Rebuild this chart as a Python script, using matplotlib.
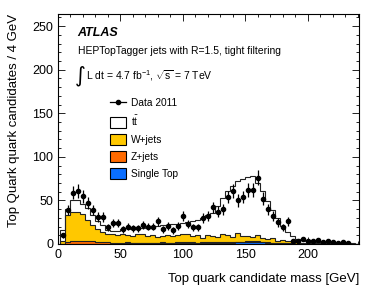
import matplotlib
matplotlib.use("Agg")
import matplotlib.pyplot as plt
from matplotlib.patches import Patch
from matplotlib.lines import Line2D
import numpy as np

plt.rcParams['font.family'] = ['Liberation Sans', 'DejaVu Sans']
plt.rcParams['mathtext.fontset'] = 'custom'
plt.rcParams['mathtext.rm'] = 'Liberation Sans'
plt.rcParams['mathtext.it'] = 'Liberation Sans:italic'

# 4 GeV bins, 60 of them
edges = np.arange(2, 243, 4)
centers = edges[:-1] + 2

data = [10, 39, 59, 61, 55, 47, 39, 31, 31, 19,
        24, 24, 17, 20, 18, 18, 22, 20, 20, 26,
        17, 21, 16, 21, 32, 23, 19, 19, 30, 32,
        42, 37, 40, 54, 61, 50, 54, 62, 62, 76,
        52, 40, 32, 25, 19, 26, 4, 3, 6, 4,
        3, 5, 2, 4, 2, 1, 2, 1, 0, 0]

single_top = [0.1, 0.3, 0.4, 0.5, 0.5, 0.5, 0.5, 0.5, 0.5, 0.5,
              0.5, 0.5, 0.5, 0.6, 0.6, 0.6, 0.6, 0.6, 0.7, 0.7,
              0.7, 0.7, 0.8, 0.8, 0.8, 0.9, 0.9, 0.9, 1.0, 1.0,
              1.1, 1.2, 1.3, 1.4, 1.6, 1.8, 2.0, 2.1, 2.2, 2.1,
              1.8, 1.5, 1.2, 0.9, 0.7, 0.5, 0.4, 0.3, 0.2, 0.2,
              0.1, 0.1, 0.1, 0.1, 0.1, 0.1, 0.1, 0.0, 0.0, 0.0]

zjets = [0.3, 1.5, 2.5, 3.0, 3.5, 3.5, 3.0, 2.0, 1.5, 1.5,
         1.2, 1.0, 0.8, 1.2, 0.9, 1.0, 1.1, 0.8, 1.0, 0.9,
         1.2, 1.0, 0.8, 1.0, 1.1, 0.9, 1.0, 0.8, 1.0, 0.9,
         1.0, 1.1, 0.9, 0.8, 1.0, 0.9, 0.8, 1.0, 0.7, 0.8,
         0.6, 0.5, 0.5, 0.4, 0.4, 0.3, 0.3, 0.2, 0.2, 0.2,
         0.1, 0.1, 0.1, 0.1, 0.1, 0.1, 0.1, 0.1, 0.1, 0.0]

wjets = [2.6, 31.2, 34.1, 33.5, 30.0, 24.0, 18.5, 14.5, 12.0, 10.0,
         9.3, 8.5, 9.7, 8.2, 7.5, 10.4, 9.3, 7.6, 8.3, 6.4,
         7.1, 8.3, 7.4, 8.2, 10.1, 9.2, 7.1, 8.3, 5.0, 8.1,
         6.9, 5.7, 8.8, 7.8, 5.4, 10.3, 6.2, 5.9, 5.1, 7.1,
         4.6, 4.0, 5.3, 2.7, 3.9, 2.2, 2.3, 1.5, 1.1, 0.6,
         0.8, 0.6, 0.6, 0.4, 0.3, 0.3, 0.2, 0.2, 0.2, 0.2]

ttbar = [13, 7, 14, 14, 12, 13, 11, 9, 8, 4,
         4, 5, 6, 8, 8, 5, 7, 10, 10, 13,
         13, 12, 14, 13, 12, 14, 17, 17, 23, 23,
         27, 36, 42, 51, 59, 59, 66, 68, 70, 60,
         54, 43, 32, 26, 16, 11, 6, 4, 3, 2.5,
         2, 1.7, 1.2, 1.4, 1.0, 0.7, 0.6, 0.5, 0.3, 0.3]

samples = [('Single Top', single_top, '#0a6eff'),
           ('Z+jets', zjets, '#ff6a00'),
           ('W+jets', wjets, '#ffc800'),
           (r't$\bar{\mathrm{t}}$', ttbar, 'white')]

fig = plt.figure(figsize=(3.82, 2.87), dpi=100)
ax = fig.add_axes([58/382, 43/287, 301/382, 230/287])

# stacked histograms, drawn from the top of the stack down
cum = []
running = np.zeros(len(centers))
for name, vals, col in samples:
    running = running + np.array(vals)
    cum.append(running.copy())
for (name, vals, col), top in reversed(list(zip(samples, cum))):
    ax.stairs(top, edges, fill=True, color=col, zorder=2)
    ax.stairs(top, edges, fill=False, color='#222222', lw=0.8, zorder=3)

d = np.array(data, dtype=float)
m = d > 0
ax.errorbar(centers[m], d[m], yerr=np.sqrt(d[m]), fmt='o', color='black',
            ms=3, elinewidth=0.9, capsize=0, zorder=5)

ax.set_xlim(0, 241)
ax.set_ylim(0, 264)
ax.set_xticks([0, 50, 100, 150, 200])
ax.set_yticks([0, 50, 100, 150, 200, 250])
ax.set_xticks(np.arange(0, 241, 10), minor=True)
ax.set_yticks(np.arange(0, 261, 10), minor=True)
ax.tick_params(which='both', direction='in', top=True, right=True, labelsize=9)
ax.tick_params(which='major', length=5, width=0.6)
ax.tick_params(which='minor', length=2.5, width=0.6)
for s in ax.spines.values():
    s.set_linewidth(0.8)

ax.set_xlabel('Top quark candidate mass [GeV]', loc='right', fontsize=9.5, labelpad=9)
ax.set_ylabel('Top Quark quark candidates / 4 GeV', loc='top', fontsize=9.5, labelpad=9)

def ax_pos(px, py):
    return (px - 58) / 301, (244 - py) / 230

ax.text(*ax_pos(77, 33), 'ATLAS', transform=ax.transAxes, fontsize=9,
        fontweight='bold', fontstyle='italic', va='center', ha='left')
ax.text(*ax_pos(78, 51), 'HEPTopTagger jets with R=1.5, tight filtering',
        transform=ax.transAxes, fontsize=7.5, va='center', ha='left')
ax.text(*ax_pos(75, 76), '\u222b', transform=ax.transAxes, fontsize=15,
        family='DejaVu Sans', va='center', ha='left')
ax.text(*ax_pos(86, 76), r'L dt = 4.7 fb$^{-1}$, $\sqrt{\mathrm{s}}$ = 7 TeV',
        transform=ax.transAxes, fontsize=7.5, va='center', ha='left')

handles = [Line2D([], [], color='black', marker='o', ms=3, lw=0.9)]
labels = ['Data 2011']
for name, vals, col in reversed(samples):
    handles.append(Patch(facecolor=col, edgecolor='black', lw=0.8))
    labels.append(name)
ax.legend(handles, labels, loc='upper left', bbox_to_anchor=ax_pos(110, 97),
          frameon=False, fontsize=7.3, handlelength=1.6, handleheight=1.4,
          labelspacing=0.52, handletextpad=0.45, borderpad=0, borderaxespad=0)

fig.savefig('out.png', dpi=100)
